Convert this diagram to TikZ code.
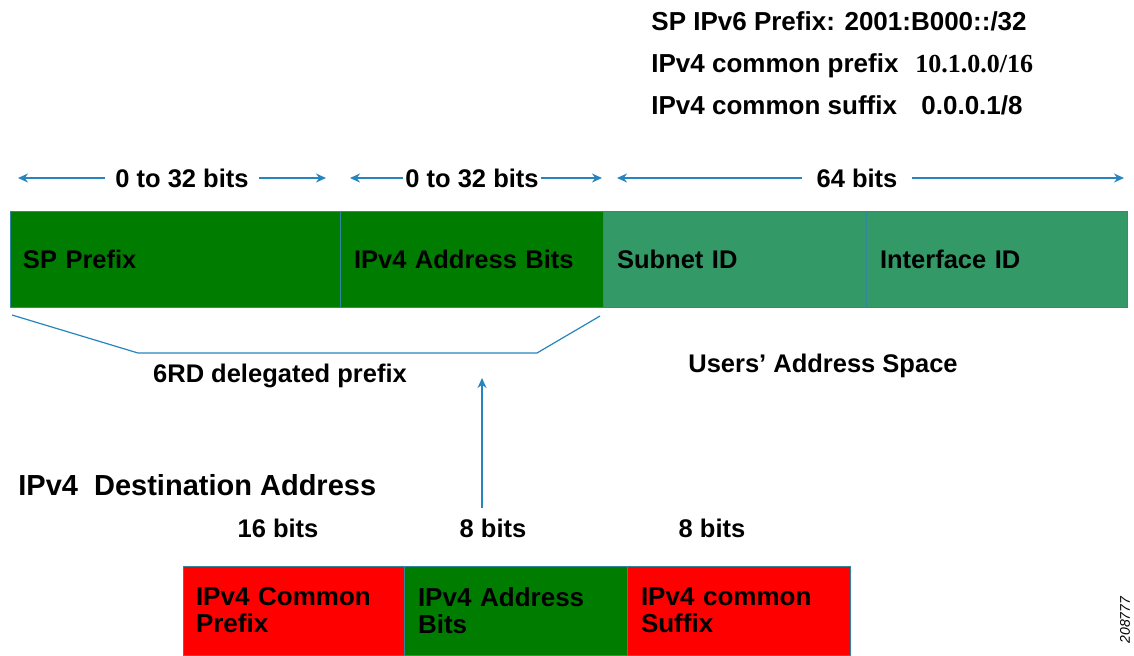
\documentclass[tikz,border=0pt]{standalone}
\usepackage{fontspec}
\setmainfont{Liberation Sans}
\newfontfamily\numfont{Liberation Serif}
\usepackage{tikz}
\usetikzlibrary{shapes,arrows.meta}
\definecolor{prefgreen}{RGB}{0,125,0}
\definecolor{usergreen}{RGB}{51,153,102}
\definecolor{v4red}{RGB}{255,0,0}
\definecolor{edgeblue}{RGB}{49,133,156}
\definecolor{arrowblue}{RGB}{38,132,190}
\tikzset{
  every picture/.style={font={\bfseries\fontsize{12.75}{15}\selectfont},
    >={Stealth[length=5pt,width=4.5pt]}}}

\begin{document}
\begin{tikzpicture}[x=0.5pt, y=-0.5pt,
    addrBar/.style={
      draw=edgeblue, line width=0.5pt,
      align=left,
      rectangle split,
      rectangle split horizontal,
      inner xsep=6.5pt, inner ysep=0pt, outer sep=0pt},
    seg/.style={text width=#1},
    txt/.style={inner sep=0pt},
    dim/.style={draw=arrowblue, line width=0.75pt},
    bigger/.style={font=\bfseries\fontsize{13}{15}\selectfont}]

    \useasboundingbox (0,0) rectangle (1134,655);

    % prefix settings
    \node[txt, bigger, anchor=base west] (spv6) at (651,30)
      {SP IPv6 Prefix: 2001:B000::/32};
    \node[txt, bigger, anchor=base west] (cpx) at (651,72) {IPv4 common prefix};
    \node[txt, bigger, anchor=base west] (cpxv) at (915,72) {\numfont 10.1.0.0/16};
    \node[txt, bigger, anchor=base west] (csx) at (651,114) {IPv4 common suffix};
    \node[txt, bigger, anchor=base west] (csxv) at (921,114) {0.0.0.1/8};

    % widths
    \node[txt, inner xsep=5pt] (w1) at (182,178) {0 to 32 bits};
    \coordinate (w1l) at (18,178);
    \coordinate (w1r) at (326,178);
    \draw[dim, ->] (w1) -- (w1l);
    \draw[dim, ->] (w1) -- (w1r);

    \node[txt, inner xsep=1pt] (w2) at (472,178) {0 to 32 bits};
    \coordinate (w2l) at (350,178);
    \coordinate (w2r) at (602,178);
    \draw[dim, ->] (w2) -- (w2l);
    \draw[dim, ->] (w2) -- (w2r);

    \node[txt, inner xsep=7pt] (w3) at (857,178) {64 bits};
    \coordinate (w3l) at (617,178);
    \coordinate (w3r) at (1124,178);
    \draw[dim, ->] (w3) -- (w3l);
    \draw[dim, ->] (w3) -- (w3r);

    % 6rd address
    \node[addrBar, rectangle split parts=4, minimum height=48pt,
          rectangle split part fill={prefgreen,prefgreen,usergreen,usergreen}]
      (v6) at (10,211) [anchor=north west]
    {
      \nodepart[seg=152pt]{one}SP Prefix
      \nodepart[seg=118pt]{two}IPv4 Address Bits
      \nodepart[seg=118pt]{three}Subnet ID
      \nodepart[seg=117pt]{four}Interface ID
    };
    \draw[edgeblue, line width=0.5pt] (v6.one split north) -- (v6.one split south);
    \draw[edgeblue, line width=0.5pt] (v6.two split north) -- (v6.two split south);
    \draw[edgeblue, line width=0.5pt] (v6.three split north) -- (v6.three split south);

    \coordinate (br1) at (12,315);
    \coordinate (br2) at (138,353);
    \coordinate (br3) at (537,353);
    \coordinate (br4) at (600,316);
    \draw[draw=arrowblue, line width=0.6pt] (br1) -- (br2) -- (br3) -- (br4);

    \node[txt, anchor=base] (deleg) at (280,382) {6RD delegated prefix};
    \node[txt, anchor=base] (users) at (823,372) {Users' Address Space};

    \coordinate (upFoot) at (482,508);
    \coordinate (upTip) at (482,378);
    \draw[dim, line width=0.6pt, ->] (upFoot) -- (upTip);

    % ipv4 address
    \node[txt, anchor=base west, font=\bfseries\fontsize{14.5}{17}\selectfont]
      (dest) at (18,495) {IPv4\ \ Destination Address};

    \node[txt, anchor=base] (b16) at (278,537) {16 bits};
    \node[txt, anchor=base] (b8a) at (493,537) {8 bits};
    \node[txt, anchor=base] (b8b) at (712,537) {8 bits};

    \node[addrBar, rectangle split parts=3, minimum height=44.5pt,
          font=\bfseries\fontsize{13}{13.5}\selectfont,
          rectangle split part fill={v4red,prefgreen,v4red}]
      (v4) at (183,566) [anchor=north west]
    {
      \nodepart[seg=97.5pt]{one}IPv4 Common\\Prefix
      \nodepart[seg=98pt]{two}IPv4 Address\\Bits
      \nodepart[seg=98pt]{three}IPv4 common\\Suffix
    };

    \node[txt, rotate=90, font=\itshape\fontsize{7}{8}\selectfont]
      (figno) at (1125,620) {208777};
  \end{tikzpicture}
\end{document}
